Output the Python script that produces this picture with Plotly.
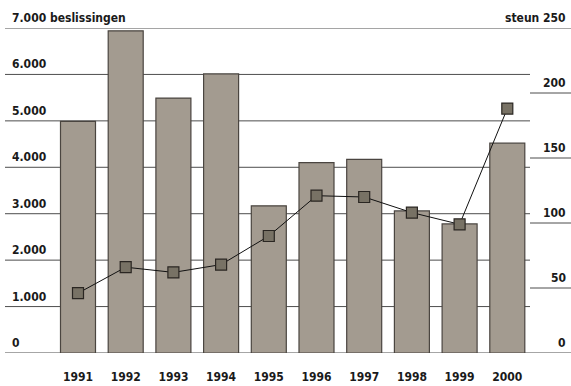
import plotly.graph_objects as go

years = [1991, 1992, 1993, 1994, 1995, 1996, 1997, 1998, 1999, 2000]
beslissingen = [4990, 6940, 5490, 6010, 3170, 4100, 4170, 3060, 2780, 4520]
steun = [46, 66, 62, 68, 90, 121, 120, 108, 99, 188]

left_ticks = [0, 1000, 2000, 3000, 4000, 5000, 6000, 7000]
left_labels = ["0", "1.000", "2.000", "3.000", "4.000", "5.000", "6.000", "7.000 beslissingen"]
right_ticks = [0, 50, 100, 150, 200, 250]
right_labels = ["0", "50", "100", "150", "200", "steun 250"]

FONT = "DejaVu Sans Condensed, Liberation Sans, Arial"
TXT = "#1a1a1a"

W, H = 571, 386
ML, MR, MT, MB = 5, 0, 27.5, 32.5
plot_w = W - ML - MR
grid_end = (530 - ML) / plot_w
px_per_year = 47.7
x0 = years[0] - (78 - ML) / px_per_year
x1 = years[0] + (W - MR - 78) / px_per_year

fig = go.Figure()
fig.add_trace(go.Bar(
    x=years, y=beslissingen, width=35 / px_per_year,
    marker=dict(color="#a39b90", line=dict(color="#4a4540", width=1.2)),
    yaxis="y", showlegend=False, hoverinfo="skip",
))
fig.add_trace(go.Scatter(
    x=years, y=steun, yaxis="y2", mode="lines+markers",
    line=dict(color="#111111", width=1),
    marker=dict(symbol="square", size=11, color="#787265",
                line=dict(color="#2a2622", width=1.2)),
    showlegend=False, hoverinfo="skip",
))

shapes = []
for t in left_ticks:
    shapes.append(dict(type="line", xref="paper", yref="y", x0=0, x1=grid_end,
                       y0=t, y1=t, line=dict(color="#4d4d4d", width=1), layer="below"))
for t in right_ticks:
    shapes.append(dict(type="line", xref="paper", yref="y2", x0=grid_end, x1=1,
                       y0=t, y1=t, line=dict(color="#4d4d4d", width=1), layer="below"))

annotations = []
for t, lab in zip(left_ticks, left_labels):
    annotations.append(dict(xref="paper", yref="y", x=0, y=t, text="<b>%s</b>" % lab,
                            xanchor="left", yanchor="bottom", xshift=5, yshift=1,
                            showarrow=False, font=dict(family=FONT, size=12, color=TXT)))
for t, lab in zip(right_ticks, right_labels):
    annotations.append(dict(xref="paper", yref="y2", x=1, y=t, text="<b>%s</b>" % lab,
                            xanchor="right", yanchor="bottom", xshift=-3, yshift=1,
                            showarrow=False, font=dict(family=FONT, size=12, color=TXT)))

fig.update_layout(
    width=W, height=H,
    margin=dict(l=ML, r=MR, t=MT, b=MB, pad=0),
    paper_bgcolor="white", plot_bgcolor="white",
    bargap=0.27,
    xaxis=dict(range=[x0, x1], tickmode="array", tickvals=years,
               ticktext=["<b>%d</b>" % y for y in years],
               tickfont=dict(family=FONT, size=12, color=TXT),
               showgrid=False, zeroline=False, showline=False, ticks="",
               ticklabelstandoff=15, fixedrange=True),
    yaxis=dict(range=[0, 7000], showgrid=False, zeroline=False, showline=False,
               showticklabels=False, ticks=""),
    yaxis2=dict(range=[0, 250], overlaying="y", side="right", showgrid=False,
                zeroline=False, showline=False, showticklabels=False, ticks=""),
    shapes=shapes, annotations=annotations,
)

fig.write_html("out.html", config={"displayModeBar": False},
               post_script="document.body.style.margin='0';document.body.style.overflow='hidden';")
